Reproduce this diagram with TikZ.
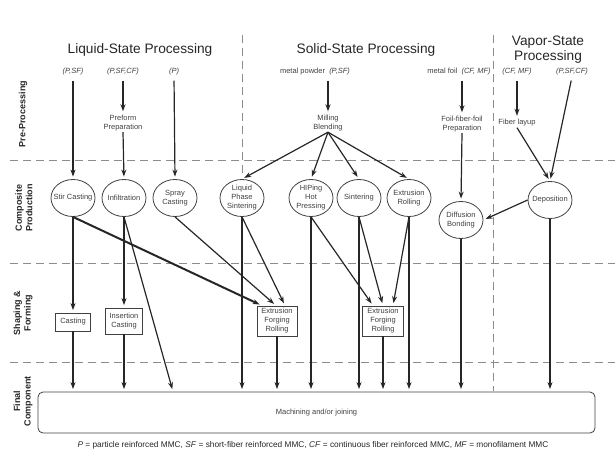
\documentclass[tikz,border=0pt]{standalone}
\usepackage{fontspec}
\setmainfont{Liberation Sans}
\usetikzlibrary{arrows.meta,shapes.geometric}
\begin{document}
\begin{tikzpicture}[x=1pt,y=-1pt,
  font=\fontsize{7.5}{9}\selectfont,
  txt/.style={text=black!75, inner sep=1pt, align=center},
  proc/.style={ellipse, draw=black!75, line width=0.8pt, minimum width=44pt, minimum height=37pt, inner sep=-5pt, align=center, text=black!75},
  boxn/.style={rectangle, draw=black!75, line width=0.8pt, align=center, inner sep=1pt, text=black!75},
  arr/.style={draw=black!85, line width=1.2pt, -{Stealth[length=7pt,width=5pt]}, shorten >=2.5pt},
  thickarr/.style={arr, line width=2pt},
  sep/.style={draw=black!45, dash pattern=on 8pt off 5pt, line width=0.8pt},
  title/.style={font=\fontsize{13.7}{15}\selectfont, text=black!85, align=center},
  side/.style={font=\bfseries\fontsize{9}{10.5}\selectfont, rotate=90, align=center, text=black!85},
  src/.style={font=\itshape\fontsize{7.5}{9}\selectfont, text=black!75, inner sep=1pt},
  finalbox/.style={rectangle, rounded corners=5pt, draw=black!75, line width=0.8pt, text=black!75}
]
\useasboundingbox (0,0) rectangle (615,452);

% separators
\draw[sep] (10,160) -- (615,160);
\draw[sep] (10,263) -- (615,263);
\draw[sep] (10,362) -- (615,362);
\draw[sep] (242,35) -- (242,173);
\draw[sep] (493,35) -- (493,391);

% titles
\node[title] (tl) at (140,50) {Liquid-State Processing};
\node[title] (ts) at (366,50) {Solid-State Processing};
\node[title] (tv) at (548,50) {Vapor-State\\Processing};

% side labels
\node[side] (s1) at (23,114) {Pre-Processing};
\node[side] (s2) at (24,208) {Composite\\Production};
\node[side] (s3) at (23,313) {Shaping \&\\Forming};
\node[side] (s4) at (23,401) {Final\\Component};

% sources
\node[src] (src1) at (73,72) {(P,SF)};
\node[src] (src2) at (123,72) {(P,SF,CF)};
\node[src] (src3) at (174,72) {(P)};
\node[txt] (mp) at (315,72) {metal powder \ \textit{(P,SF)}};
\node[txt] (mf) at (459,72) {metal foil \ \textit{(CF, MF)}};
\node[src] (vs1) at (517,72) {(CF, MF)};
\node[src] (vs2) at (572,72) {(P,SF,CF)};

% pre-processing
\node[txt] (ppr) at (123,123) {Preform\\Preparation};
\node[txt] (mb) at (328,123) {Milling\\Blending};
\node[txt] (ffp) at (462,124) {Foil-fiber-foil\\Preparation};
\node[txt] (fl) at (517,123) {Fiber layup};

% composite production
\node[proc] (stir) at (73,198) {Stir Casting};
\node[proc] (infil) at (124,198) {Infiltration};
\node[proc] (spray) at (175,198) {Spray\\Casting};
\node[proc] (lps) at (242,198) {Liquid\\Phase\\Sintering};
\node[proc] (hip) at (311,198) {HIPing\\Hot\\Pressing};
\node[proc] (sint) at (359,198) {Sintering};
\node[proc] (extr) at (409,198) {Extrusion\\Rolling};
\node[proc] (diff) at (461,220) {Diffusion\\Bonding};
\node[proc] (depo) at (550,200) {Deposition};

% shaping
\node[boxn, minimum width=35pt, minimum height=18pt] (cast) at (73,322) {Casting};
\node[boxn, minimum width=37pt, minimum height=26pt] (ins) at (124,321) {Insertion\\Casting};
\node[boxn, minimum width=40pt, minimum height=30pt] (efr1) at (277,321) {Extrusion\\Forging\\Rolling};
\node[boxn, minimum width=41pt, minimum height=30pt] (efr2) at (383,321) {Extrusion\\Forging\\Rolling};

% final
\node[finalbox, minimum width=557pt, minimum height=41pt] (fin) at (316.5,412.5) {Machining and/or joining};

% caption
\node[txt, font=\fontsize{8.3}{10}\selectfont, text=black!85] (cap) at (313,445) {\textit{P} = particle reinforced MMC, \textit{SF} = short-fiber reinforced MMC, \textit{CF} = continuous fiber reinforced MMC, \textit{MF} = monofilament MMC};

% pre-processing connectors
\draw[arr, shorten <=4pt] (src1.south) -- (stir.north);
\draw[arr, shorten <=4pt] (src2.south) -- (ppr.north);
\draw[arr] (ppr.south) -- (infil.north);
\draw[arr, shorten <=4pt] (src3.south) -- (spray.north);
\draw[arr, shorten <=4pt] (mp.south -| mb.north) -- (mb.north);
\draw[arr] (mb.south) -- (lps.north);
\draw[arr] (mb.south) -- (hip.north);
\draw[arr] (mb.south) -- (sint.north);
\draw[arr] (mb.south) -- (extr.north);
\draw[arr, shorten <=4pt] (mf.south -| ffp.north) -- (ffp.north);
\draw[arr] (ffp.south) -- (diff.north);
\draw[arr, shorten <=4pt] (vs1.south) -- (fl.north);
\draw[arr] (fl.south) -- (depo.north);
\draw[arr, shorten <=4pt] (vs2.south) -- (depo.north);
\draw[arr] (depo.west) -- (diff.east);

% composite -> shaping
\draw[arr] (stir.south) -- (cast.north);
\draw[thickarr] (stir.south) -- ([xshift=-15pt]efr1.north);
\draw[arr] (infil.south) -- (ins.north);
\draw[arr] (spray.south) -- ([xshift=-1pt]efr1.north);
\draw[arr] (lps.south) -- ([xshift=8pt]efr1.north);
\draw[arr] (hip.south) -- ([xshift=-10pt]efr2.north);
\draw[arr] (sint.south) -- (efr2.north);
\draw[arr] (extr.south) -- ([xshift=10pt]efr2.north);

% to final
\draw[arr] (cast.south) -- (cast.south |- fin.north);
\draw[arr] (ins.south) -- (ins.south |- fin.north);
\draw[arr] (infil.south) -- ([xshift=-2pt]spray.south |- fin.north);
\draw[arr] (lps.south) -- (lps.south |- fin.north);
\draw[arr] (efr1.south) -- (efr1.south |- fin.north);
\draw[arr] (hip.south) -- (hip.south |- fin.north);
\draw[arr] (sint.south) -- (sint.south |- fin.north);
\draw[arr] (efr2.south) -- (efr2.south |- fin.north);
\draw[arr] (extr.south) -- (extr.south |- fin.north);
\draw[arr] (diff.south) -- (diff.south |- fin.north);
\draw[arr] (depo.south) -- (depo.south |- fin.north);
\end{tikzpicture}
\end{document}
